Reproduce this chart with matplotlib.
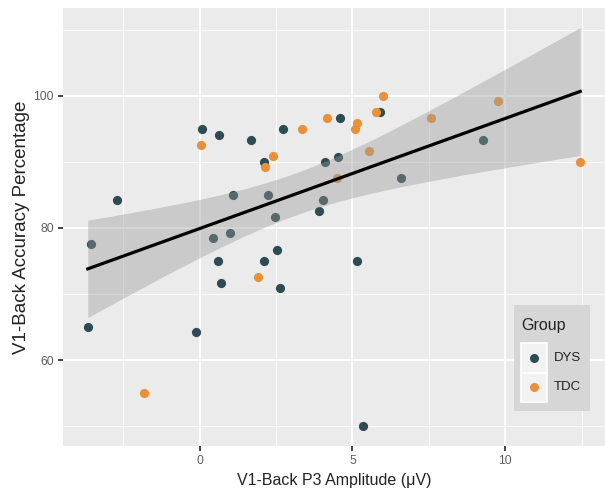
import numpy as np
import matplotlib
matplotlib.use("Agg")
import matplotlib.pyplot as plt
from matplotlib.patches import Rectangle

plt.rcParams['font.family'] = ['Liberation Sans', 'DejaVu Sans']

# DYS group
dys_x = [-3.54, -3.66, -2.70, -0.11, 0.07, 0.64, 0.45, 0.61, 0.70, 0.99, 1.09, 1.67,
         2.11, 2.10, 2.22, 2.48, 2.52, 2.64, 2.74, 3.91, 4.02, 4.11, 4.54, 4.58,
         5.15, 5.33, 5.90, 6.58, 9.28]
dys_y = [77.6, 65.0, 84.2, 64.2, 95.0, 94.1, 78.4, 75.0, 71.7, 79.2, 85.0, 93.3,
         90.0, 75.0, 85.0, 81.6, 76.7, 70.9, 95.0, 82.5, 84.2, 90.0, 90.8, 96.7,
         75.0, 50.0, 97.5, 87.5, 93.3]
# TDC group
tdc_x = [-1.81, 0.05, 1.91, 2.13, 2.40, 3.34, 4.18, 4.48, 5.08, 5.15, 5.55, 5.77,
         5.99, 7.58, 9.77, 12.45]
tdc_y = [55.0, 92.5, 72.5, 89.2, 90.9, 95.0, 96.7, 87.5, 95.0, 95.9, 91.7, 97.5,
         100.0, 96.7, 99.2, 90.0]

groups = ["DYS", "TDC"]
colors = ["#2E4A52", "#E8913A"]
x_ticks = [0, 5, 10]
y_ticks = [60, 80, 100]
x_label = "V1-Back P3 Amplitude (\u03bcV)"
y_label = "V1-Back Accuracy Percentage"
T_CRIT = 2.0167  # t(0.975, df=43)

W, H = 605, 494
fig = plt.figure(figsize=(W / 100, H / 100), dpi=100)
fig.patch.set_facecolor("white")
left, right, top, bottom = 63, 605, 8.5, 446
ax = fig.add_axes([left / W, 1 - bottom / H, (right - left) / W, (bottom - top) / H])
ax.set_facecolor("#EBEBEB")
for s in ax.spines.values():
    s.set_visible(False)

ax.set_xlim(-4.47, 13.26)
ax.set_ylim(47.0, 113.2)
ax.set_xticks(x_ticks)
ax.set_yticks(y_ticks)
ax.set_xticks([-2.5, 2.5, 7.5, 12.5], minor=True)
ax.set_yticks([50, 70, 90, 110], minor=True)
ax.grid(which="major", color="white", linewidth=1.3)
ax.grid(which="minor", color="white", linewidth=0.6)
ax.set_axisbelow(True)
ax.tick_params(which="major", length=3.5, width=1.3, color="#333333",
               labelsize=8.8, labelcolor="#5E5E5E", pad=3)
ax.tick_params(which="minor", length=0)

ax.scatter(dys_x, dys_y, s=44, color=colors[0], zorder=3, linewidths=0)
ax.scatter(tdc_x, tdc_y, s=44, color=colors[1], zorder=3, linewidths=0)

# linear fit with 95% confidence band
allx = np.array(dys_x + tdc_x)
ally = np.array(dys_y + tdc_y)
n = len(allx)
b, a = np.polyfit(allx, ally, 1)
xs = np.linspace(allx.min(), allx.max(), 100)
ys = a + b * xs
resid = ally - (a + b * allx)
s_err = np.sqrt(np.sum(resid ** 2) / (n - 2))
sxx = np.sum((allx - allx.mean()) ** 2)
se = s_err * np.sqrt(1 / n + (xs - allx.mean()) ** 2 / sxx)
ax.fill_between(xs, ys - T_CRIT * se, ys + T_CRIT * se, color="#999999", alpha=0.4,
                linewidth=0, zorder=4)
ax.plot(xs, ys, color="black", linewidth=2.3, zorder=5)

ax.set_xlabel(x_label, fontsize=11.5, color="#222222", labelpad=4)
ax.set_ylabel(y_label, fontsize=13.5, color="#222222", va="center")
ax.yaxis.set_label_coords((22 - left) / (right - left), 0.5)

# legend (manual, ggplot-like)
def fx(px):
    return px / W
def fy(py):
    return 1 - py / H

fig.patches.append(Rectangle((fx(514), fy(411)), (590 - 514) / W, (411 - 305) / H,
                             transform=fig.transFigure, facecolor="#D6D6D6",
                             edgecolor="none", zorder=10))
fig.text(fx(521), fy(325), "Group", fontsize=11.5, color="#222222", va="center",
         ha="left", zorder=11)
key_top = 343
key_h = 29.5
for i, (g, c) in enumerate(zip(groups, colors)):
    y0 = key_top + i * key_h
    fig.patches.append(Rectangle((fx(521), fy(y0 + key_h)), 26 / W, key_h / H,
                                 transform=fig.transFigure, facecolor="#F2F2F2",
                                 edgecolor="white", linewidth=1.2, zorder=11))
    fig.add_artist(plt.Line2D([fx(534)], [fy(y0 + key_h / 2)], marker="o",
                              markersize=6.5, color=c, markeredgewidth=0,
                              transform=fig.transFigure, zorder=12))
    fig.text(fx(554), fy(y0 + key_h / 2), g, fontsize=9.5, color="#222222",
             va="center", ha="left", zorder=12)

fig.savefig("out.png", dpi=100)
